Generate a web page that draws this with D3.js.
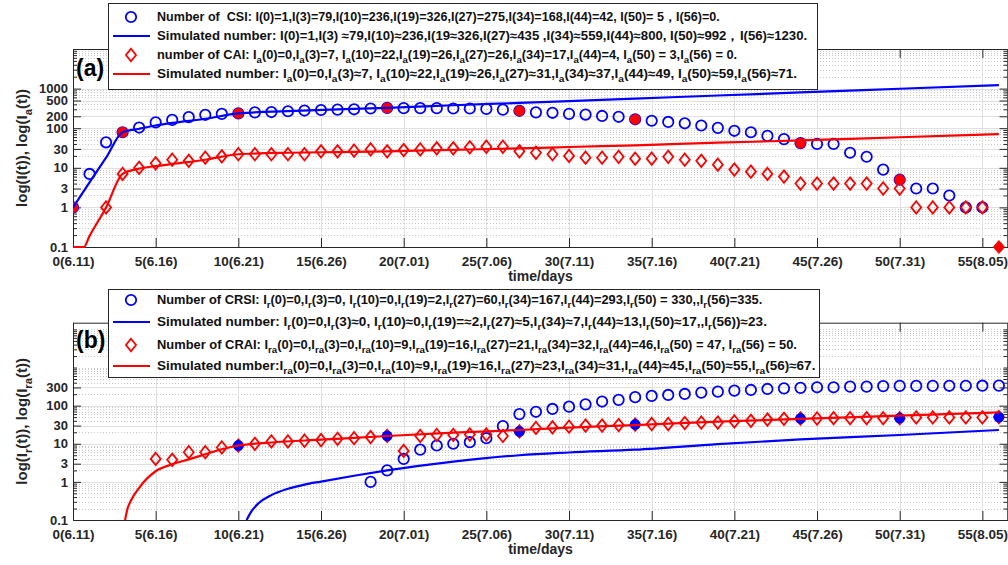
<!DOCTYPE html>
<html><head><meta charset="utf-8">
<script src="https://cdn.jsdelivr.net/npm/d3@7"></script>
<style>
html,body{margin:0;padding:0;background:#fff;}
svg{display:block;font-family:"Liberation Sans",Arial,sans-serif;}
text{white-space:pre;}
</style></head><body><svg id="c" width="1008" height="565"></svg>
<script>
// ---------------- DATA ----------------
const dayTicks=[0,5,10,15,20,25,30,35,40,45,50,55];
const dayTickLabels=["0(6.11)","5(6.16)","10(6.21)","15(6.26)","20(7.01)","25(7.06)","30(7.11)","35(7.16)","40(7.21)","45(7.26)","50(7.31)","55(8.05)"];
const yTicksA=[0.1,1,3,10,30,100,200,500,1000];
const yTicksB=[0.1,1,3,10,30,100,300];

// observed, one value per day 0..56 (0 = not plotted on log axis)
const csiObs=[1,7,44,79,104,140,162,190,218,230,
 236,251,256,268,279,288,294,300,314,326,
 321,321,321,314,314,307,294,275,251,245,
 230,221,204,194,168,154,144,133,117,102,
 86,79,64,53,42,40,40,24,19,9,
 5,3,3,2,1,1,0];
const caiObs=[0,0,1,7,10,13,16,15,18,19.5,
 22,22,22,22,22,26,26,27,29,26,
 28,29,31,31,33,34,34,26,24,22,
 20,18,18,19,17,17,19,16,15,12,
 9,8,7,6,4,4,4,4,4,3,
 3,1,1,1,1,1,0];
const csiKeyDays=[0,3,10,19,27,34,44,50];
const csiKeyVals=[1,79,236,326,275,168,42,5];
const zeroKeyDays=[56];           // I(56)=0, Ia(56)=0 drawn on the axis floor
const csiSimDays=[0,1,2,3,4,5,6,8,10,13,16,19,23,27,30,34,39,44,50,56];
const csiSimVals=[1,4.3,18,79,97,117,136,173,236,270,300,326,380,435,485,559,670,800,992,1230];
const caiSimDays=[0,0.65,1,2,3,4,5,6,8,10,13,16,19,23,27,30,34,39,44,50,56];
const caiSimVals=[0.1,0.1,0.19,1,7,9.5,11,12.5,16,22,24,25,26,28.5,31,33.5,37,43,49,59,71];

const crsiObs=[0,0,0,0,0,0,0,0,0,0,
 0,0,0,0,0,0,0,0,1,2,
 4,7,9,10,11,14,29,60,69,82,
 94,108,128,142,167,180,191,203,220,233,
 248,258,274,284,293,303,303,315,315,326,
 330,330,330,332,333,334,335];
const craiObs=[0,0,0,0,0,4,3.8,6,6,8,
 9,10,11.5,11.5,12,12.5,13.5,14,15,16,
 6.5,16,17,17,17.5,17.5,16,21,26,27,
 28,30,30,31,32,33,33,35,36,36,
 38.5,40,43,45,46,46,47,47,47,47,
 47,49,49,49,49,49,50];
const craiKeyDays=[10,19,27,34,44,50,56];
const craiKeyVals=[9,16,21,32,46,47,50];
const crsiSimDays=[10.5,10.8,11.2,12,13,14,15,17,19,23,27,30,34,39,44,50,56];
const crsiSimVals=[0.1,0.17,0.27,0.45,0.66,0.85,1.02,1.45,2,3.4,5,5.9,7,9.8,13,17,23];
const craiSimDays=[3.15,3.3,3.5,4,5,6,7,8,9,10,12,15,19,23,27,30,34,39,44,50,56];
const craiSimVals=[0.1,0.2,0.32,0.7,1.9,2.9,3.9,5.3,7.2,9,10.8,12.8,16,19.5,23,26.5,31,38,45,55,67];

const legendA=[
 "Number of  CSI: I(0)=1,I(3)=79,I(10)=236,I(19)=326,I(27)=275,I(34)=168,I(44)=42, I(50)= 5，I(56)=0.",
 "Simulated number: I(0)=1,I(3) ≈79,I(10)≈236,I(19≈326,I(27)≈435 ,I(34)≈559,I(44)≈800, I(50)≈992，I(56)≈1230.",
 "number of CAI: I_a(0)=0,I_a(3)=7, I_a(10)=22,I_a(19)=26,I_a(27)=26,I_a(34)=17,I_a(44)=4, I_a(50) = 3,I_a(56) = 0.",
 "Simulated number: I_a(0)=0,I_a(3)≈7, I_a(10)≈22,I_a(19)≈26,I_a(27)≈31,I_a(34)≈37,I_a(44)≈49, I_a(50)≈59,I_a(56)≈71."
];
const legendB=[
 "Number of CRSI: I_r(0)=0,I_r(3)=0, I_r(10)=0,I_r(19)=2,I_r(27)=60,I_r(34)=167,I_r(44)=293,I_r(50) = 330,,I_r(56)=335.",
 "Simulated number: I_r(0)=0,I_r(3)≈0, I_r(10)≈0,I_r(19)=≈2,I_r(27)≈5,I_r(34)≈7,I_r(44)≈13,I_r(50)≈17,,I_r(56))≈23.",
 "Number of CRAI: I_ra(0)=0,I_ra(3)=0,I_ra(10)=9,I_ra(19)=16,I_ra(27)=21,I_ra(34)=32,I_ra(44)=46,I_ra(50) = 47, I_ra(56) = 50.",
 "Simulated number:I_ra(0)=0,I_ra(3)=0,I_ra(10)≈9,I_ra(19)≈16,I_ra(27)≈23,I_ra(34)≈31,I_ra(44)≈45,I_ra(50)≈55,I_ra(56)≈67."
];

// ---------------- DRAW ----------------
const svg=d3.select('#c');
const AX='#262626', BLUE='#0000ff', RED='#ff0000';
const X0=73, X1=1008;
const x=d3.scaleLinear().domain([0,56.55]).range([X0,X1]);
const days=csiObs.map((_,i)=>i);

function rich(textSel,str,fs){
  const parts=str.split(/(_[a-z]+)/);
  let shifted=false;
  parts.forEach(p=>{
    if(!p) return;
    if(p[0]==='_'){
      textSel.append('tspan').attr('font-size',fs*0.75).attr('dy',fs*0.32).text(p.slice(1));
      shifted=true;
    } else {
      const t=textSel.append('tspan').text(p);
      if(shifted){t.attr('dy',-fs*0.32);shifted=false;}
    }
  });
}
const diamond=(cx,cy,hw,hh)=>`M${cx},${cy-hh}L${cx+hw},${cy}L${cx},${cy+hh}L${cx-hw},${cy}Z`;

function panel(o){
  const g=svg.append('g');
  const y=d3.scaleLog().domain(o.yDomain).range([o.bottom,o.top]);
  const snap=v=>Math.round(v)+0.5;
  const minors=[];
  for(let e=-1;e<=4;e++)for(let m=1;m<10;m++){
    const v=m*Math.pow(10,e);
    if(v>=o.yDomain[0]*0.999&&v<=o.yDomain[1]*1.001&&!o.yTicks.some(t=>Math.abs(t-v)/v<1e-6))minors.push(v);
  }
  // grid
  g.selectAll(null).data(minors).join('line')
    .attr('x1',X0).attr('x2',X1).attr('y1',d=>snap(y(d))).attr('y2',d=>snap(y(d)))
    .attr('stroke','#c8c8c8').attr('stroke-dasharray','1,2');
  g.selectAll(null).data(o.yTicks).join('line')
    .attr('x1',X0).attr('x2',X1).attr('y1',d=>snap(y(d))).attr('y2',d=>snap(y(d)))
    .attr('stroke','#e0e0e0');
  g.selectAll(null).data(dayTicks).join('line')
    .attr('y1',o.top).attr('y2',o.bottom).attr('x1',d=>snap(x(d))).attr('x2',d=>snap(x(d)))
    .attr('stroke','#e0e0e0');

  // axes
  const axStyle=(s,fs)=>{s.selectAll('path').attr('stroke',AX);s.selectAll('line').attr('stroke',AX);
    s.selectAll('text').attr('fill',AX).attr('font-size',fs||13.5).attr('font-weight','bold').attr('font-family','"Liberation Sans",Arial,sans-serif');};
  g.append('g').attr('transform',`translate(0,${o.bottom})`)
    .call(d3.axisBottom(x).tickValues(dayTicks).tickFormat((d,i)=>dayTickLabels[i]).tickSizeInner(-9).tickSizeOuter(0).tickPadding(9.5)).call(axStyle);
  g.append('g').attr('transform',`translate(0,${o.top})`)
    .call(d3.axisTop(x).tickValues(dayTicks).tickFormat('').tickSizeInner(-9).tickSizeOuter(0)).call(axStyle);
  g.append('g').attr('transform',`translate(${X0},0)`)
    .call(d3.axisLeft(y).tickValues(o.yTicks).tickFormat(d=>String(d)).tickSizeInner(-8).tickSizeOuter(0).tickPadding(5)).call(s=>axStyle(s,13));
  g.append('g').attr('transform',`translate(${X0},0)`)
    .call(d3.axisLeft(y).tickValues(minors).tickFormat('').tickSizeInner(-4).tickSizeOuter(0)).call(axStyle);
  g.append('g').attr('transform',`translate(${X1-0.5},0)`)
    .call(d3.axisRight(y).tickValues(o.yTicks).tickFormat('').tickSizeInner(-8).tickSizeOuter(0)).call(axStyle);
  g.append('g').attr('transform',`translate(${X1-0.5},0)`)
    .call(d3.axisRight(y).tickValues(minors).tickFormat('').tickSizeInner(-4).tickSizeOuter(0)).call(axStyle);

  // labels
  g.append('text').attr('x',(X0+X1)/2).attr('y',o.bottom+34).attr('text-anchor','middle')
    .attr('font-size',14).attr('font-weight','bold').attr('fill',AX).text('time/days');
  const yl=g.append('text').attr('transform',`translate(27,${(o.top+o.bottom)/2}) rotate(-90)`)
    .attr('text-anchor','middle').attr('font-size',15).attr('font-weight','bold').attr('fill',AX);
  rich(yl,o.ylabel,15);

  // clip
  const cid='clip'+o.id;
  svg.append('clipPath').attr('id',cid).append('rect').attr('x',X0).attr('y',o.top-8).attr('width',X1-X0+8).attr('height',o.bottom-o.top+16);
  const pg=g.append('g').attr('clip-path',`url(#${cid})`);
  const lineClip='clipL'+o.id;
  svg.append('clipPath').attr('id',lineClip).append('rect').attr('x',X0).attr('y',o.top).attr('width',X1-X0).attr('height',o.bottom-o.top+1.5);
  const lg=g.append('g').attr('clip-path',`url(#${lineClip})`);

  const obs1=days.map(d=>({d,v:o.obs1[d]})).filter(p=>p.v>0);
  const obs2=days.map(d=>({d,v:o.obs2[d]})).filter(p=>p.v>0);
  const line=d3.line().x(p=>x(p.d)).y(p=>y(p.v)).curve(d3.curveMonotoneX);

  pg.selectAll(null).data(obs1).join('circle').attr('cx',p=>x(p.d)).attr('cy',p=>y(p.v)).attr('r',5.2)
    .attr('fill','none').attr('stroke',BLUE).attr('stroke-width',1.8);
  lg.append('path').attr('d',line(o.sim1Days.map((d,i)=>({d,v:o.sim1Vals[i]}))))
    .attr('fill','none').attr('stroke',BLUE).attr('stroke-width',2.2);
  pg.selectAll(null).data(obs2).join('path').attr('d',p=>diamond(x(p.d),y(p.v),5,6.2))
    .attr('fill','none').attr('stroke',RED).attr('stroke-width',1.8);
  lg.append('path').attr('d',line(o.sim2Days.map((d,i)=>({d,v:o.sim2Vals[i]}))))
    .attr('fill','none').attr('stroke',RED).attr('stroke-width',2.2);
  pg.selectAll(null).data(o.keyDays.map((d,i)=>({d,v:o.keyVals[i]}))).join('circle')
    .attr('cx',p=>x(p.d)).attr('cy',p=>y(p.v)).attr('r',5.4).attr('fill',o.keyColor);
  if(o.zeroDays){
    pg.selectAll(null).data(o.zeroDays).join('path').attr('d',d=>diamond(x(d),y(o.yDomain[0]),5.5,6.5))
      .attr('fill',RED).attr('stroke',RED).attr('stroke-width',1);
  }

  // panel letter
  g.append('text').attr('x',76).attr('y',o.letterY).attr('font-size',23).attr('font-weight','bold').attr('fill','#000').text(o.letter);

  // legend
  const L=o.legend;
  const lb=g.append('g');
  lb.append('rect').attr('x',108.5).attr('y',L.top+0.5).attr('width',L.right-108).attr('height',L.bottom-L.top)
    .attr('fill','#fff').attr('stroke',AX).attr('stroke-width',1);
  L.rows.forEach((r,i)=>{
    const cy=L.rowY[i];
    if(i===0) lb.append('circle').attr('cx',131).attr('cy',cy).attr('r',5.2).attr('fill','none').attr('stroke',BLUE).attr('stroke-width',1.8);
    if(i===2) lb.append('path').attr('d',diamond(131,cy,5,6.2)).attr('fill','none').attr('stroke',RED).attr('stroke-width',1.8);
    if(i===1||i===3) lb.append('line').attr('x1',113).attr('x2',150).attr('y1',cy).attr('y2',cy).attr('stroke',i===1?BLUE:RED).attr('stroke-width',2.2);
    const t=lb.append('text').attr('x',157).attr('y',cy+4.3).attr('font-size',L.fs).attr('font-weight','bold').attr('fill','#111');
    rich(t,r,L.fs);
    const len=t.node().getComputedTextLength();
    const s=(L.ends[i]-157)/len;
    t.attr('transform',`translate(157,0) scale(${s},1) translate(-157,0)`);
  });
}

const fsLeg=12.2;

panel({id:'a',top:49,bottom:247,yDomain:[0.1,1e4],yTicks:yTicksA,ylabel:'log(I(t)), log(I_a(t))',
  obs1:csiObs,obs2:caiObs,sim1Days:csiSimDays,sim1Vals:csiSimVals,sim2Days:caiSimDays,sim2Vals:caiSimVals,
  keyDays:csiKeyDays,keyVals:csiKeyVals,keyColor:RED,zeroDays:zeroKeyDays,letter:'(a)',letterY:76,
  legend:{top:3,bottom:89,right:817,rows:legendA,rowY:[17,36,55,74],fs:fsLeg,ends:[720,807,737,797]}});
panel({id:'b',top:322.7,bottom:520,yDomain:[0.1,15000],yTicks:yTicksB,ylabel:'log(I_r(t)), log(I_ra(t))',
  obs1:crsiObs,obs2:craiObs,sim1Days:crsiSimDays,sim1Vals:crsiSimVals,sim2Days:craiSimDays,sim2Vals:craiSimVals,
  keyDays:craiKeyDays,keyVals:craiKeyVals,keyColor:BLUE,zeroDays:null,letter:'(b)',letterY:348,
  legend:{top:289,bottom:377,right:819,rows:legendB,rowY:[300,322,345,366],fs:fsLeg,ends:[762,767,797,815]}});
</script></body></html>
